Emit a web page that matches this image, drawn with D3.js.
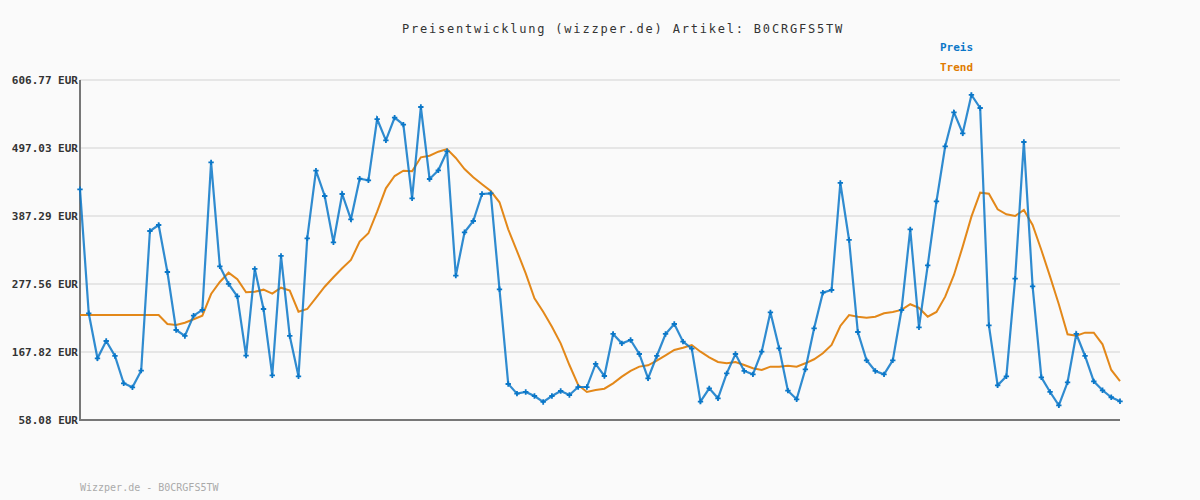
<!DOCTYPE html>
<html lang="de">
<head>
<meta charset="utf-8">
<title>Preisentwicklung</title>
<style>
body {
  margin: 0;
  background: #fafafa;
}
svg text {
  font-family: "DejaVu Sans Mono", "Liberation Mono", monospace;
}
.grid line {
  stroke: #e6e6e6;
  stroke-width: 2;
}
.axis-line {
  stroke: #777;
  stroke-width: 2;
}
</style>
</head>
<body>
<div id="chart"></div>
<script src="https://d3js.org/d3.v7.min.js"></script>
<script>
// tick labels on the y axis (EUR)
var yTicks = [58.08, 167.82, 277.56, 387.29, 497.03, 606.77];

// price per sample (blue)
var preis = [
  430.4, 230.3, 157.6, 185.6, 161.4, 117.3, 110.8, 137.7, 363.1, 372.8,
  296.9, 203.3, 193.7, 226.5, 235.6, 473.9, 306.1, 277.6, 257.7, 161.9,
  301.8, 237.2, 130.2, 322.8, 193.7, 128.6, 351.3, 460.4, 419.6, 344.9,
  422.8, 381.9, 447.5, 444.9, 543.8, 509.4, 546.0, 534.7, 415.8, 563.2,
  447.0, 461.0, 491.7, 291.0, 361.0, 379.2, 422.8, 423.9, 269.0, 116.2,
  100.6, 103.3, 96.8, 87.2, 96.8, 104.9, 98.4, 111.3, 111.3, 148.5,
  129.1, 196.9, 181.8, 187.2, 164.6, 125.4, 161.4, 196.9, 213.0, 184.5,
  173.2, 87.7, 109.2, 93.1, 133.4, 164.6, 137.2, 131.8, 168.3, 231.8,
  173.8, 105.4, 91.5, 139.9, 206.0, 263.6, 267.9, 440.6, 348.6, 200.1,
  154.4, 137.2, 131.8, 154.4, 235.6, 365.8, 207.7, 307.7, 411.0, 499.8,
  554.6, 520.8, 582.6, 561.6, 210.9, 114.1, 128.6, 286.1, 506.7, 273.8,
  127.0, 103.3, 81.8, 118.9, 196.9, 161.4, 120.5, 106.0, 94.8, 88.3
];

// trend per sample (orange)
var trend = [
  227.5, 227.5, 227.5, 227.5, 227.5, 227.5, 227.5, 227.5, 227.5, 227.5,
  213.0, 211.4, 215.0, 220.6, 226.5, 261.4, 280.8, 295.8, 285.2, 264.2,
  265.2, 268.4, 262.0, 271.6, 266.8, 232.9, 237.2, 255.0, 273.2, 288.4,
  303.0, 316.3, 345.9, 359.4, 394.3, 432.0, 451.8, 460.4, 459.4, 482.0,
  484.6, 491.1, 495.4, 480.9, 463.1, 449.7, 438.4, 427.6, 409.4, 365.8,
  330.8, 294.8, 254.5, 232.9, 208.7, 181.8, 146.8, 114.6, 103.3, 106.5,
  108.6, 117.3, 128.0, 137.2, 144.2, 146.4, 153.8, 162.5, 171.1, 174.8,
  179.1, 168.3, 159.3, 151.7, 149.6, 151.7, 146.8, 141.5, 138.8, 144.2,
  144.2, 145.7, 144.2, 149.6, 156.1, 165.8, 179.1, 209.8, 227.5, 224.8,
  223.2, 224.8, 230.3, 232.4, 235.7, 244.9, 238.9, 224.8, 232.4, 257.1,
  292.1, 337.8, 386.2, 424.9, 423.3, 398.1, 390.1, 387.3, 397.0, 372.8,
  332.4, 289.4, 244.9, 196.4, 194.1, 199.0, 199.0, 180.2, 138.8, 121.0
];

var seriesNames = ["Preis", "Trend"];
var seriesColors = ["#0a77c8", "#e07b00"];

var titleText = "Preisentwicklung (wizzper.de) Artikel: B0CRGFS5TW";
var footerText = "Wizzper.de - B0CRGFS5TW";

var width = 1200, height = 500;
var margin = { top: 80, right: 80, bottom: 80, left: 80 };

var svg = d3.select("#chart").append("svg")
    .attr("width", width)
    .attr("height", height)
    .style("display", "block");

svg.append("rect")
    .attr("width", width)
    .attr("height", height)
    .attr("fill", "#fafafa");

var x = d3.scaleLinear()
    .domain([0, preis.length - 1])
    .range([margin.left, width - margin.right]);

var y = d3.scaleLinear()
    .domain([yTicks[0], yTicks[yTicks.length - 1]])
    .range([height - margin.bottom, margin.top]);

// grid lines
svg.append("g")
    .attr("class", "grid")
    .selectAll("line")
    .data(yTicks.slice(1))
    .enter().append("line")
      .attr("x1", margin.left)
      .attr("x2", width - margin.right)
      .attr("y1", function(d) { return y(d); })
      .attr("y2", function(d) { return y(d); });

// y axis labels
var yAxis = d3.axisLeft(y)
    .tickValues(yTicks)
    .tickSize(0)
    .tickPadding(2)
    .tickFormat(function(d) { return d3.format(".2f")(d) + " EUR"; });

var gy = svg.append("g")
    .attr("transform", "translate(" + margin.left + ",0)")
    .call(yAxis);
gy.select(".domain").remove();
gy.selectAll("text")
    .attr("fill", "#333")
    .style("font-size", "11px")
    .style("font-weight", "bold")
    .style("font-family", "'DejaVu Sans Mono', monospace");

// axis lines
svg.append("line")
    .attr("class", "axis-line")
    .attr("x1", margin.left).attr("x2", margin.left)
    .attr("y1", margin.top).attr("y2", height - margin.bottom + 1);
svg.append("line")
    .attr("class", "axis-line")
    .attr("x1", margin.left).attr("x2", width - margin.right)
    .attr("y1", height - margin.bottom).attr("y2", height - margin.bottom);

var line = d3.line()
    .x(function(d, i) { return x(i); })
    .y(function(d) { return y(d); });

// trend
svg.append("path")
    .datum(trend)
    .attr("fill", "none")
    .attr("stroke", seriesColors[1])
    .attr("stroke-opacity", 0.9)
    .attr("stroke-width", 2)
    .attr("d", line);

// price
svg.append("path")
    .datum(preis)
    .attr("fill", "none")
    .attr("stroke", seriesColors[0])
    .attr("stroke-opacity", 0.85)
    .attr("stroke-width", 2.2)
    .attr("d", line);

svg.append("g")
    .selectAll("path")
    .data(preis)
    .enter().append("path")
      .attr("transform", function(d, i) { return "translate(" + x(i) + "," + y(d) + ")"; })
      .attr("d", d3.symbol().type(d3.symbolCross).size(16))
      .attr("fill", seriesColors[0]);

// title
svg.append("text")
    .attr("x", 623)
    .attr("y", 33)
    .attr("text-anchor", "middle")
    .attr("fill", "#333")
    .style("font-size", "12px")
    .style("letter-spacing", "1.8px")
    .text(titleText);

// legend
svg.selectAll(".legend")
    .data(seriesNames)
    .enter().append("text")
      .attr("class", "legend")
      .attr("x", 940)
      .attr("y", function(d, i) { return 51 + i * 20; })
      .attr("fill", function(d, i) { return seriesColors[i]; })
      .style("font-size", "11px")
      .style("font-weight", "bold")
      .text(function(d) { return d; });

// footer
svg.append("text")
    .attr("x", 80)
    .attr("y", 491)
    .attr("fill", "#aaa")
    .style("font-size", "10px")
    .text(footerText);
</script>
</body>
</html>
